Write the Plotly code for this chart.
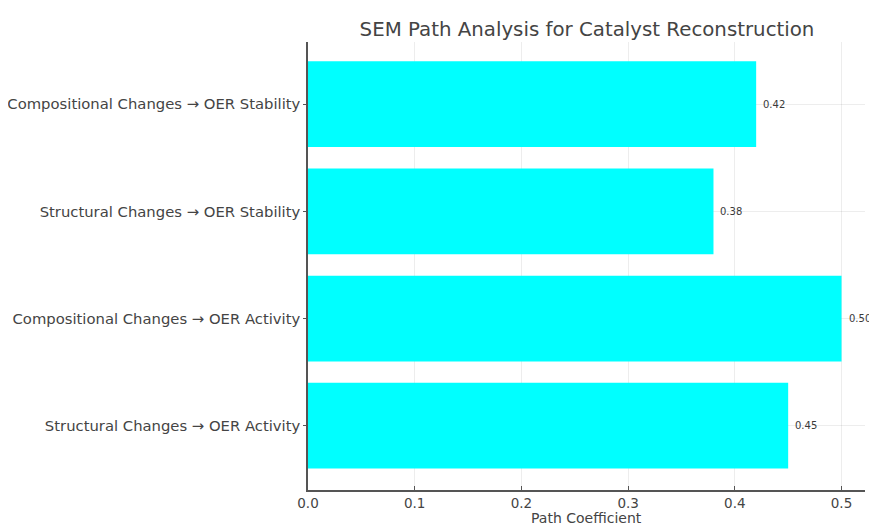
import plotly.graph_objects as go

categories = [
    "Structural Changes → OER Activity",
    "Compositional Changes → OER Activity",
    "Structural Changes → OER Stability",
    "Compositional Changes → OER Stability",
]
values = [0.45, 0.50, 0.38, 0.42]
x_ticks = [0.0, 0.1, 0.2, 0.3, 0.4, 0.5]
x_tick_labels = ["0.0", "0.1", "0.2", "0.3", "0.4", "0.5"]
x_title = "Path Coefficient"
chart_title = "SEM Path Analysis for Catalyst Reconstruction"

font_family = "DejaVu Sans"

fig = go.Figure(
    go.Bar(
        y=categories,
        x=values,
        orientation="h",
        marker=dict(color="#00FFFF", line=dict(width=0)),
        width=0.8,
        hoverinfo="x+y",
    )
)

for c, v in zip(categories, values):
    fig.add_annotation(
        x=v, y=c, text=f"{v:.2f}", showarrow=False,
        xanchor="left", xshift=5,
        font=dict(family=font_family, size=10, color="#3a3a3a"),
    )

fig.add_annotation(
    x=0.5, y=0, xref="paper", yref="paper", text=x_title, showarrow=False,
    xanchor="center", yanchor="middle", yshift=-28,
    font=dict(family=font_family, size=14, color="#444444"),
)

# page body has an 8px margin, so the figure is shifted by 8px
fig.update_layout(
    width=869, height=519,
    margin=dict(l=300, r=12, t=34, b=37),
    paper_bgcolor="white", plot_bgcolor="white",
    title=dict(
        text=chart_title,
        x=(587 - 8) / 869, xanchor="center", y=1 - (29 - 8) / 519, yanchor="middle",
        font=dict(family=font_family, size=19.8, color="#444444"),
    ),
    showlegend=False,
    font=dict(family=font_family, color="#444444"),
)

fig.update_xaxes(
    range=[0, 0.522],
    tickvals=x_ticks, ticktext=x_tick_labels,
    automargin=False,
    showgrid=True, gridcolor="rgba(0,0,0,0.07)", gridwidth=1,
    showline=True, linecolor="#555555", linewidth=1.5,
    ticks="inside", ticklen=4, tickcolor="#555555",
    tickfont=dict(size=13.5, color="#444444"),
    zeroline=False,
)
fig.update_yaxes(
    range=[-0.6, 3.58],
    automargin=False,
    showgrid=True, gridcolor="rgba(0,0,0,0.07)", gridwidth=1,
    showline=True, linecolor="#555555", linewidth=1.5,
    ticks="outside", ticklen=3, tickcolor="#555555",
    tickfont=dict(size=14.8, color="#444444"),
    zeroline=False,
)

fig.write_html("out.html")
